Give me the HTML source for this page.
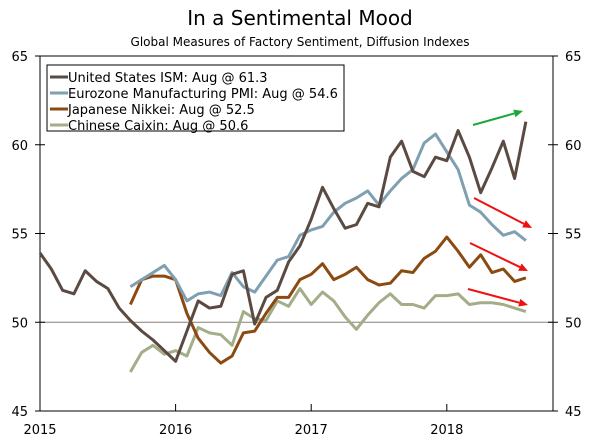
<!DOCTYPE html>
<html><head><meta charset="utf-8"><style>
body{margin:0;background:#fff;}
svg{display:block;font-family:"DejaVu Sans","Liberation Sans",sans-serif;}
</style></head><body>
<svg id="chart" width="600" height="443">
<text x="300" y="25" font-size="20" text-anchor="middle" fill="#000">In a Sentimental Mood</text>
<text x="300" y="46" font-size="12" text-anchor="middle" fill="#000">Global Measures of Factory Sentiment, Diffusion Indexes</text>
<g id="axes"></g>
<g id="series"></g>
<g id="arrows"></g>
<g id="legend"></g>
</svg>
<script>
const yTicks=[45,50,55,60,65];
const xYears=["2015","2016","2017","2018"];
const usISM=[53.9,53.0,51.8,51.6,52.9,52.3,51.9,50.8,50.1,49.5,49.0,48.4,47.8,49.5,51.2,50.8,50.9,52.7,52.9,49.9,51.4,51.8,53.4,54.3,55.8,57.6,56.4,55.3,55.5,56.7,56.5,59.3,60.2,58.5,58.2,59.3,59.1,60.8,59.3,57.3,58.7,60.2,58.1,61.3];
const euroPMI=[52.0,52.4,52.8,53.2,52.4,51.2,51.6,51.7,51.5,52.8,52.0,51.7,52.6,53.5,53.7,54.9,55.2,55.4,56.2,56.7,57.0,57.4,56.6,57.4,58.1,58.6,60.1,60.6,59.6,58.6,56.6,56.2,55.5,54.9,55.1,54.6];
const japanNikkei=[51.0,52.4,52.6,52.6,52.4,50.5,49.1,48.3,47.7,48.1,49.4,49.5,50.5,51.4,51.4,52.4,52.7,53.3,52.4,52.7,53.1,52.4,52.1,52.2,52.9,52.8,53.6,54.0,54.8,54.0,53.1,53.8,52.8,53.0,52.3,52.5];
const chinaCaixin=[47.2,48.3,48.7,48.2,48.4,48.1,49.7,49.4,49.3,48.7,50.6,50.2,50.1,51.2,50.9,51.9,51.0,51.7,51.2,50.3,49.6,50.4,51.1,51.6,51.0,51.0,50.8,51.5,51.5,51.6,51.0,51.1,51.1,51.0,50.8,50.6];
const seriesNames=["United States ISM: Aug @ 61.3","Eurozone Manufacturing PMI: Aug @ 54.6","Japanese Nikkei: Aug @ 52.5","Chinese Caixin: Aug @ 50.6"];
const NS="http://www.w3.org/2000/svg";
const L=40,R=553,T=56,B=411;
const x=i=>L+i*11.3; // month index from Jan 2015
const y=v=>B-(v-45)*(B-T)/20;
function mk(tag,attrs,parent){const e=document.createElementNS(NS,tag);for(const k in attrs)e.setAttribute(k,attrs[k]);parent.appendChild(e);return e;}
const ax=document.getElementById('axes');
let e=mk('rect',{x:L,y:T,width:R-L,height:B-T,fill:'none',stroke:'#000','stroke-width':1},ax);


e=mk('line',{x1:L,x2:R,y1:y(50),y2:y(50),stroke:'#8a7f78','stroke-width':1},ax);


yTicks.forEach(v=>{
 mk('line',{x1:L-5,x2:L+5,y1:y(v),y2:y(v),stroke:'#000'},ax);
 mk('line',{x1:R-5,x2:R+5,y1:y(v),y2:y(v),stroke:'#000'},ax);
 let t=mk('text',{x:L-12,y:y(v)+5,'font-size':13,'text-anchor':'end'},ax);t.textContent=v;
 
 
 t=mk('text',{x:R+12,y:y(v)+5,'font-size':13},ax);t.textContent=v;
 
 
});
xYears.forEach((s,k)=>{
 mk('line',{x1:x(k*12),x2:x(k*12),y1:B-7,y2:B,stroke:'#000'},ax);
 const t=mk('text',{x:x(k*12),y:B+23,'font-size':13,'text-anchor':'middle'},ax);t.textContent=s;
 
 
});
const sg=document.getElementById('series');
const defs=[[usISM,0,'#5a4a42','series-us-ism'],[euroPMI,8,'#7f9fb2','series-eurozone-pmi'],[japanNikkei,8,'#8b4a12','series-japan-nikkei'],[chinaCaixin,8,'#a3ad88','series-china-caixin']];
[3,2,1,0].forEach(k=>{
 const [d,off,c,n]=defs[k];
 const p=mk('polyline',{points:d.map((v,i)=>x(i+off)+','+y(v)).join(' '),fill:'none',stroke:c,'stroke-width':3,'stroke-linejoin':'round'},sg);
 
 
});
const ag=document.getElementById('arrows');
const arrowDefs=[[473,125,523,111,'#1aa83a'],[474,198,532,228,'#f01010'],[470,243,528,271,'#f01010'],[468,289,528,305,'#f01010']];
arrowDefs.forEach(a=>{
 const [x1,y1,x2,y2,c]=a;
 const g=mk('g',{},ag);
 
 
 const ang=Math.atan2(y2-y1,x2-x1);
 const bx=x2-9*Math.cos(ang),by=y2-9*Math.sin(ang);
 mk('line',{x1,y1,x2:bx,y2:by,stroke:c,'stroke-width':2},g);
 const px=-Math.sin(ang)*4,py=Math.cos(ang)*4;
 mk('polygon',{points:`${x2},${y2} ${bx+px},${by+py} ${bx-px},${by-py}`,fill:c},g);
});
const lg=document.getElementById('legend');
e=mk('rect',{x:47,y:65,width:297,height:66,fill:'#fff',stroke:'#000'},lg);


seriesNames.forEach((s,k)=>{
 const yy=77+k*16;
 const g=mk('g',{},lg);
 
 
 mk('line',{x1:50,x2:68,y1:yy,y2:yy,stroke:defs[k][2],'stroke-width':3},g);
 const t=mk('text',{x:68,y:yy+5,'font-size':13},g);t.textContent=s;
});
</script>
</body></html>
